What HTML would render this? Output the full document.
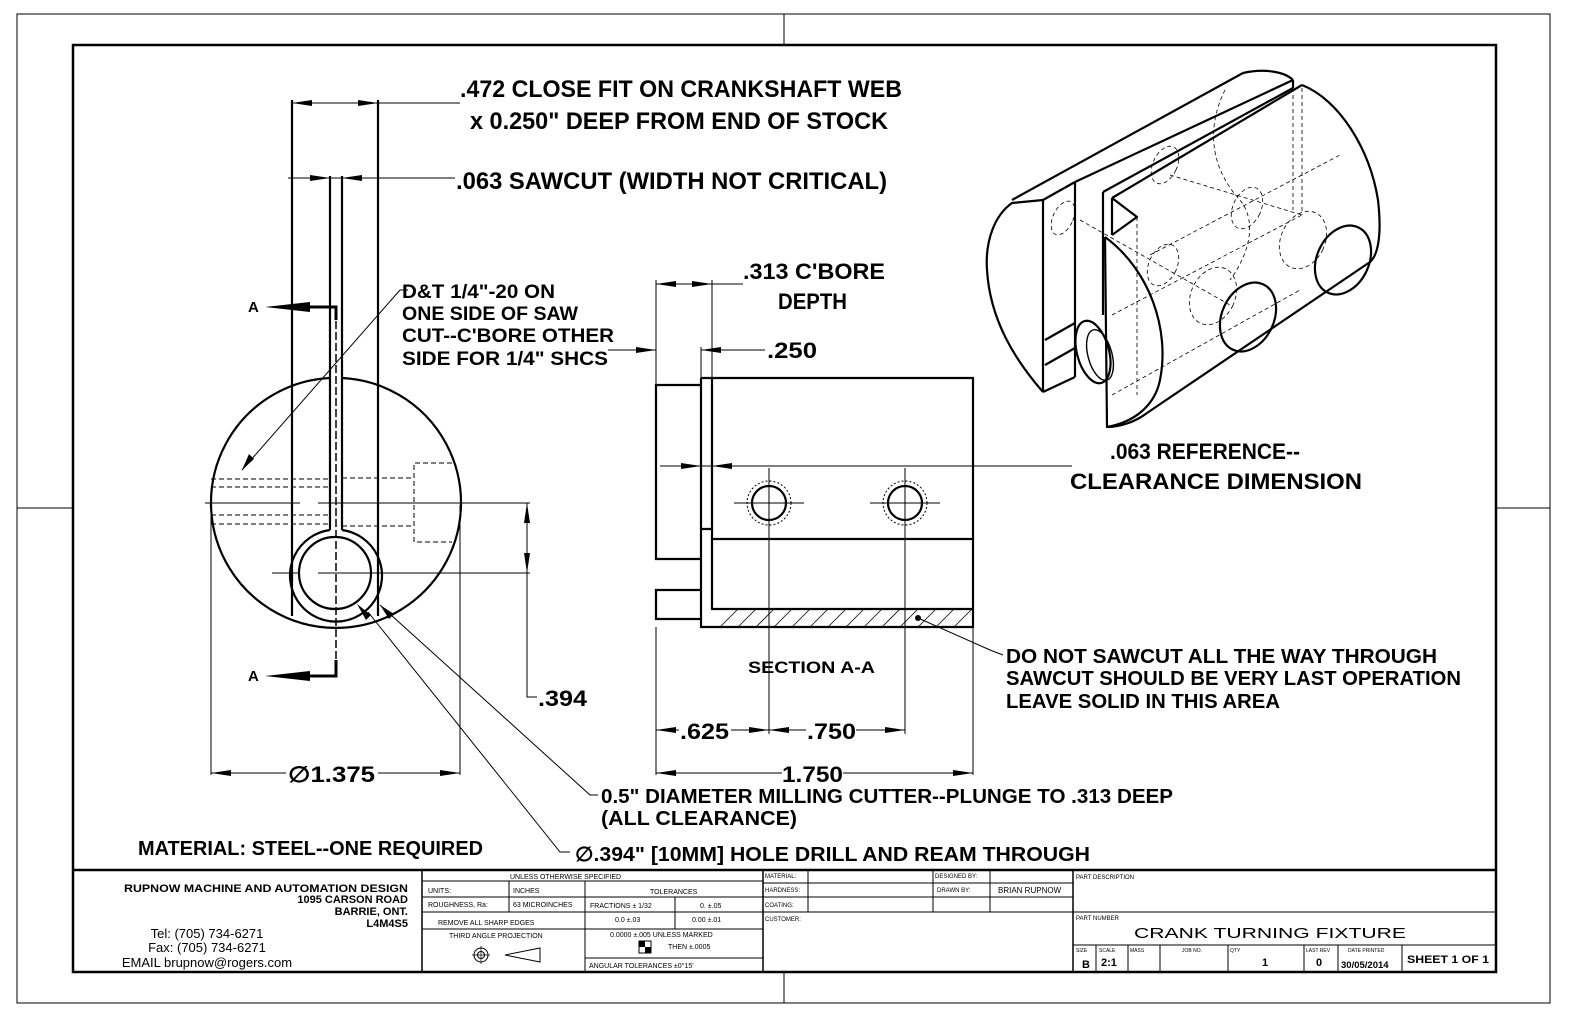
<!DOCTYPE html>
<html><head><meta charset="utf-8"><style>
html,body{margin:0;padding:0;background:#fff}
svg{display:block}
.t{font-family:"Liberation Sans",sans-serif;font-weight:bold;fill:#000}
.n{font-family:"Liberation Sans",sans-serif;fill:#000}
</style></head><body>
<svg width="1573" height="1020" viewBox="0 0 1573 1020" xmlns="http://www.w3.org/2000/svg">
<rect width="1573" height="1020" fill="#fff"/>
<rect x="17" y="14" width="1533" height="989" fill="none" stroke="#000" stroke-width="1"/>
<rect x="73" y="45" width="1423" height="927" fill="none" stroke="#000" stroke-width="2.5"/>
<g stroke="#000" stroke-width="1">
<line x1="784" y1="14" x2="784" y2="45"/><line x1="784" y1="972" x2="784" y2="1003"/>
<line x1="17" y1="508" x2="73" y2="508"/><line x1="1496" y1="508" x2="1550" y2="508"/>
</g>

<!-- LEFT VIEW -->
<g fill="none" stroke="#000" stroke-width="2.2">
<path d="M330 378 A125 125 0 1 0 342 378"/>
<line x1="292" y1="100" x2="292" y2="616"/>
<line x1="378" y1="100" x2="378" y2="616"/>
<line x1="330" y1="176" x2="330" y2="530"/>
<line x1="342" y1="176" x2="342" y2="530"/>
<path d="M330 530 A46 46 0 1 0 342 530"/>
<circle cx="335" cy="573" r="36"/>
</g>
<g fill="none" stroke="#000" stroke-width="1">
<line x1="336" y1="310" x2="336" y2="675" stroke-dasharray="8,3" stroke-width="1.5"/>
<line x1="205" y1="503" x2="300" y2="503"/><line x1="318" y1="503" x2="530" y2="503"/>
<line x1="272" y1="573" x2="300" y2="573"/><line x1="318" y1="573" x2="530" y2="573"/>
<g stroke-dasharray="5,3">
<line x1="211" y1="479" x2="330" y2="479"/><line x1="211" y1="487" x2="330" y2="487"/>
<line x1="211" y1="515" x2="330" y2="515"/><line x1="211" y1="524" x2="330" y2="524"/>
<line x1="342" y1="478" x2="414" y2="478"/><line x1="342" y1="526" x2="414" y2="526"/>
<polyline points="452,463 414,463 414,542 452,542"/>
</g>
<line x1="292" y1="103" x2="460" y2="103"/>
<line x1="288" y1="178" x2="455" y2="178"/>
<line x1="211" y1="505" x2="211" y2="775"/><line x1="460" y1="505" x2="460" y2="775"/>
<line x1="211" y1="773" x2="286" y2="773"/><line x1="378" y1="773" x2="460" y2="773"/>
<polyline points="527,503 527,697 537,697"/>
<line x1="400" y1="290" x2="242" y2="470"/>
<line x1="400" y1="290" x2="408" y2="290"/>
<polyline points="380,605 590,795 598,795"/>
<polyline points="368,612 560,852 570,852"/>
</g>
<g fill="#000">
<polygon points="292,103 312,100 312,106"/><polygon points="378,103 358,100 358,106"/>
<polygon points="330,178 310,175 310,181"/><polygon points="342,178 362,175 362,181"/>
<polygon points="211,773 231,770 231,776"/><polygon points="460,773 440,770 440,776"/>
<polygon points="527,503 524,523 530,523"/><polygon points="527,573 524,553 530,553"/>
<polygon points="242,470 249,454 254,459"/>
<polygon points="380,605 394,614 389,619"/>
<polygon points="357,604 366,620 371,615"/>
<polygon points="265,307 310,302 310,312"/><polygon points="265,676 310,671 310,681"/>
</g>
<g stroke="#000" stroke-width="3" fill="none">
<polyline points="300,307 336,307 336,320"/><polyline points="300,676 336,676 336,660"/>
</g>
<text class="t" x="248" y="312" font-size="15">A</text>
<text class="t" x="248" y="681" font-size="15">A</text>

<!-- SECTION -->
<g fill="none" stroke="#000" stroke-width="2.2">
<polyline points="701,385 656,385 656,559 701,559"/>
<polyline points="701,590 656,590 656,619 701,619"/>
<polyline points="701,378 701,627 973,627 973,378 701,378"/>
<polyline points="712,378 712,529 701,529"/>
<polyline points="712,529 712,609 973,609"/>
<line x1="712" y1="539" x2="973" y2="539"/>
<circle cx="769" cy="503" r="17"/><circle cx="905" cy="503" r="17"/>
</g>
<g fill="none" stroke="#000" stroke-width="1">
<circle cx="769" cy="503" r="22" stroke-dasharray="2,2"/><circle cx="905" cy="503" r="22" stroke-dasharray="2,2"/>
<line x1="734" y1="503" x2="804" y2="503"/><line x1="870" y1="503" x2="940" y2="503"/>
<line x1="769" y1="468" x2="769" y2="734"/><line x1="905" y1="468" x2="905" y2="734"/>
<line x1="660" y1="466" x2="1072" y2="466"/>
<line x1="656" y1="280" x2="656" y2="385"/><line x1="712" y1="280" x2="712" y2="378"/>
<line x1="701" y1="347" x2="701" y2="378"/>
<line x1="656" y1="284" x2="743" y2="284"/>
<line x1="608" y1="350" x2="656" y2="350"/><line x1="701" y1="350" x2="765" y2="350"/>
<line x1="656" y1="627" x2="656" y2="775"/><line x1="973" y1="627" x2="973" y2="775"/>
<line x1="656" y1="730" x2="679" y2="730"/><line x1="731" y1="730" x2="806" y2="730"/><line x1="856" y1="730" x2="905" y2="730"/>
<line x1="656" y1="773" x2="782" y2="773"/><line x1="843" y1="773" x2="973" y2="773"/>
<polyline points="918,618 990,650 1003,655"/>
<g stroke-width="0.8">
<path d="M720 627 L738 609 M738 627 L756 609 M756 627 L774 609 M774 627 L792 609 M792 627 L810 609 M810 627 L828 609 M828 627 L846 609 M846 627 L864 609 M864 627 L882 609 M882 627 L900 609 M900 627 L918 609 M918 627 L936 609 M936 627 L954 609 M954 627 L972 609"/>
</g>
</g>
<circle cx="918" cy="618" r="3" fill="#000"/>
<g fill="#000">
<polygon points="656,284 676,281 676,287"/><polygon points="712,284 692,281 692,287"/>
<polygon points="656,350 636,347 636,353"/><polygon points="701,350 721,347 721,353"/>
<polygon points="701,466 681,463 681,469"/><polygon points="712,466 732,463 732,469"/>
<polygon points="656,730 676,727 676,733"/><polygon points="769,730 749,727 749,733"/>
<polygon points="769,730 789,727 789,733"/><polygon points="905,730 885,727 885,733"/>
<polygon points="656,773 676,770 676,776"/><polygon points="973,773 953,770 953,776"/>
</g>

<!-- ISOMETRIC -->
<g fill="none" stroke="#000" stroke-width="2.2" stroke-linejoin="round">
<path d="M1043 200 L1012 203 C995 215 985 240 987 270 C990 320 1015 360 1043 392"/>
<line x1="1043" y1="200" x2="1043" y2="392"/>
<line x1="1012" y1="200" x2="1243" y2="73"/>
<path d="M1243 73 C1265 68 1285 72 1293 80"/>
<line x1="1043" y1="200" x2="1075" y2="182"/>
<line x1="1075" y1="182" x2="1293" y2="80"/>
<line x1="1293" y1="80" x2="1293" y2="88"/>
<line x1="1103" y1="192" x2="1293" y2="88"/>
<line x1="1112" y1="198" x2="1302" y2="85"/>
<path d="M1302 85 C1340 100 1370 150 1378 200 C1382 235 1378 255 1370 262"/>
<line x1="1370" y1="262" x2="1147" y2="413"/>
<path d="M1147 413 C1135 422 1120 427 1107 427"/>
<line x1="1075" y1="182" x2="1075" y2="377"/>
<line x1="1075" y1="377" x2="1043" y2="392"/>
<line x1="1045" y1="340" x2="1075" y2="323"/>
<line x1="1045" y1="365" x2="1075" y2="348"/>
<line x1="1103" y1="192" x2="1103" y2="315"/>
<line x1="1112" y1="198" x2="1112" y2="235"/>
<polyline points="1112,198 1137,217 1112,235"/>
<path d="M1105 237 C1150 270 1170 330 1160 380 C1155 405 1135 422 1107 427 L1105 237"/>
<ellipse cx="1093" cy="352" rx="16" ry="32" transform="rotate(-15 1093 352)"/>
<ellipse cx="1100" cy="355" rx="12" ry="26" transform="rotate(-15 1100 355)" stroke-width="1.4"/>
<ellipse cx="1248" cy="317" rx="26" ry="36" transform="rotate(25 1248 317)"/>
<ellipse cx="1343" cy="260" rx="26" ry="36" transform="rotate(25 1343 260)"/>
</g>
<g fill="none" stroke="#000" stroke-width="0.8" stroke-dasharray="4,3">
<line x1="1293" y1="88" x2="1293" y2="210"/><line x1="1302" y1="88" x2="1302" y2="215"/>
<line x1="1137" y1="217" x2="1137" y2="395"/>
<line x1="1112" y1="315" x2="1302" y2="215"/>
<line x1="1112" y1="395" x2="1300" y2="290"/>
<line x1="1170" y1="175" x2="1302" y2="215"/>
<line x1="1080" y1="220" x2="1230" y2="305"/>
<line x1="1150" y1="255" x2="1340" y2="155"/>
<path d="M1225 90 C1205 130 1212 170 1240 200 C1260 225 1245 260 1230 280"/>
<ellipse cx="1163" cy="265" rx="14" ry="22" transform="rotate(25 1163 265)"/>
<ellipse cx="1247" cy="208" rx="14" ry="22" transform="rotate(25 1247 208)"/>
<ellipse cx="1213" cy="296" rx="22" ry="30" transform="rotate(25 1213 296)"/>
<ellipse cx="1303" cy="240" rx="22" ry="30" transform="rotate(25 1303 240)"/>
<ellipse cx="1063" cy="218" rx="10" ry="18" transform="rotate(25 1063 218)"/>
<ellipse cx="1165" cy="165" rx="12" ry="20" transform="rotate(25 1165 165)"/>
</g>

<!-- LABELS -->
<g class="t">
<text x="460" y="97" font-size="24" textLength="442" lengthAdjust="spacingAndGlyphs">.472 CLOSE FIT ON CRANKSHAFT WEB</text>
<text x="470" y="129" font-size="24" textLength="418" lengthAdjust="spacingAndGlyphs">x 0.250" DEEP FROM END OF STOCK</text>
<text x="456" y="189" font-size="24" textLength="431" lengthAdjust="spacingAndGlyphs">.063 SAWCUT (WIDTH NOT CRITICAL)</text>
<text x="402" y="298" font-size="19" textLength="153" lengthAdjust="spacingAndGlyphs">D&amp;T 1/4"-20 ON</text>
<text x="402" y="320" font-size="19" textLength="176" lengthAdjust="spacingAndGlyphs">ONE SIDE OF SAW</text>
<text x="402" y="342" font-size="19" textLength="212" lengthAdjust="spacingAndGlyphs">CUT--C'BORE OTHER</text>
<text x="402" y="365" font-size="19" textLength="206" lengthAdjust="spacingAndGlyphs">SIDE FOR 1/4" SHCS</text>
<text x="743" y="279" font-size="22" textLength="142" lengthAdjust="spacingAndGlyphs">.313 C'BORE</text>
<text x="778" y="309" font-size="22" textLength="69" lengthAdjust="spacingAndGlyphs">DEPTH</text>
<text x="767" y="358" font-size="22" textLength="50" lengthAdjust="spacingAndGlyphs">.250</text>
<text x="1110" y="459" font-size="22" textLength="190" lengthAdjust="spacingAndGlyphs">.063 REFERENCE--</text>
<text x="1070" y="489" font-size="22" textLength="292" lengthAdjust="spacingAndGlyphs">CLEARANCE DIMENSION</text>
<text x="1006" y="663" font-size="20" textLength="431" lengthAdjust="spacingAndGlyphs">DO NOT SAWCUT ALL THE WAY THROUGH</text>
<text x="1006" y="685" font-size="20" textLength="455" lengthAdjust="spacingAndGlyphs">SAWCUT SHOULD BE VERY LAST OPERATION</text>
<text x="1006" y="708" font-size="20" textLength="274" lengthAdjust="spacingAndGlyphs">LEAVE SOLID IN THIS AREA</text>
<text x="748" y="673" font-size="17" textLength="127" lengthAdjust="spacingAndGlyphs">SECTION A-A</text>
<text x="680" y="739" font-size="22" textLength="49" lengthAdjust="spacingAndGlyphs">.625</text>
<text x="807" y="739" font-size="22" textLength="49" lengthAdjust="spacingAndGlyphs">.750</text>
<text x="782" y="782" font-size="22" textLength="61" lengthAdjust="spacingAndGlyphs">1.750</text>
<text x="288" y="782" font-size="22" textLength="87" lengthAdjust="spacingAndGlyphs">∅1.375</text>
<text x="538" y="706" font-size="22" textLength="49" lengthAdjust="spacingAndGlyphs">.394</text>
<text x="601" y="803" font-size="20" textLength="572" lengthAdjust="spacingAndGlyphs">0.5" DIAMETER MILLING CUTTER--PLUNGE TO .313 DEEP</text>
<text x="601" y="825" font-size="20" textLength="196" lengthAdjust="spacingAndGlyphs">(ALL CLEARANCE)</text>
<text x="138" y="855" font-size="20" textLength="345" lengthAdjust="spacingAndGlyphs">MATERIAL: STEEL--ONE REQUIRED</text>
<text x="575" y="861" font-size="20" textLength="515" lengthAdjust="spacingAndGlyphs">∅.394" [10MM] HOLE DRILL AND REAM THROUGH</text>
</g>

<!-- TITLE BLOCK -->
<g fill="none" stroke="#000">
<line x1="73" y1="870" x2="1496" y2="870" stroke-width="2.5"/>
<line x1="422" y1="870" x2="422" y2="972" stroke-width="1.5"/>
<line x1="763" y1="870" x2="763" y2="972" stroke-width="1.5"/>
<line x1="1073" y1="870" x2="1073" y2="972" stroke-width="1.5"/>
<g stroke-width="1">
<line x1="422" y1="881" x2="763" y2="881"/>
<line x1="422" y1="897" x2="763" y2="897"/>
<line x1="422" y1="912" x2="763" y2="912"/>
<line x1="422" y1="929" x2="763" y2="929"/>
<line x1="585" y1="958" x2="763" y2="958"/>
<line x1="509" y1="881" x2="509" y2="912"/>
<line x1="585" y1="881" x2="585" y2="972"/>
<line x1="675" y1="897" x2="675" y2="929"/>
<line x1="763" y1="883" x2="1073" y2="883"/>
<line x1="763" y1="897" x2="1073" y2="897"/>
<line x1="763" y1="912" x2="1073" y2="912"/>
<line x1="808" y1="870" x2="808" y2="912"/>
<line x1="933" y1="870" x2="933" y2="912"/>
<line x1="990" y1="870" x2="990" y2="912"/>
<line x1="1073" y1="912" x2="1496" y2="912"/>
<line x1="1073" y1="945" x2="1496" y2="945"/>
<line x1="1096" y1="945" x2="1096" y2="972"/>
<line x1="1128" y1="945" x2="1128" y2="972"/>
<line x1="1160" y1="945" x2="1160" y2="972"/>
<line x1="1228" y1="945" x2="1228" y2="972"/>
<line x1="1304" y1="945" x2="1304" y2="972"/>
<line x1="1338" y1="945" x2="1338" y2="972"/>
<line x1="1402" y1="945" x2="1402" y2="972"/>
</g>
<circle cx="481" cy="955" r="7" stroke-width="1"/><circle cx="481" cy="955" r="3.5" stroke-width="1"/>
<line x1="472" y1="955" x2="490" y2="955" stroke-width="0.7"/><line x1="481" y1="946" x2="481" y2="964" stroke-width="0.7"/>
<polygon points="505,955 540,948 540,962" stroke-width="1"/>
</g>
<rect x="639" y="941" width="12" height="12" fill="none" stroke="#000"/>
<path d="M639 941h6v6h-6zM645 947h6v6h-6z" fill="#000"/>
<g class="t">
<text x="408" y="892" font-size="11" text-anchor="end" textLength="284" lengthAdjust="spacingAndGlyphs">RUPNOW MACHINE AND AUTOMATION DESIGN</text>
<text x="408" y="903" font-size="11" text-anchor="end">1095 CARSON ROAD</text>
<text x="408" y="915" font-size="11" text-anchor="end">BARRIE, ONT.</text>
<text x="408" y="927" font-size="11" text-anchor="end">L4M4S5</text>
<text x="1134" y="938" font-size="15" textLength="272" lengthAdjust="spacingAndGlyphs" font-weight="normal">CRANK TURNING FIXTURE</text>
<text x="1407" y="963" font-size="11" textLength="82" lengthAdjust="spacingAndGlyphs">SHEET 1 OF 1</text>
<text x="1082" y="968" font-size="11">B</text>
<text x="1101" y="966" font-size="11">2:1</text>
<text x="1262" y="966" font-size="11">1</text>
<text x="1316" y="966" font-size="11">0</text>
<text x="1341" y="968" font-size="9.5">30/05/2014</text>
</g>
<g class="n">
<text x="207" y="938" font-size="13" text-anchor="middle">Tel: (705) 734-6271</text>
<text x="207" y="952" font-size="13" text-anchor="middle">Fax: (705) 734-6271</text>
<text x="207" y="967" font-size="13" text-anchor="middle">EMAIL brupnow@rogers.com</text>
</g>
<g class="n" font-size="7">
<text x="510" y="879">UNLESS OTHERWISE SPECIFIED</text>
<text x="428" y="893">UNITS:</text><text x="513" y="893">INCHES</text>
<text x="650" y="894">TOLERANCES</text>
<text x="428" y="907">ROUGHNESS, Ra:</text><text x="513" y="907">63 MICROINCHES</text>
<text x="590" y="908">FRACTIONS ± 1/32</text><text x="700" y="908">0.   ±.05</text>
<text x="438" y="925">REMOVE ALL SHARP EDGES</text>
<text x="615" y="922">0.0  ±.03</text><text x="692" y="922">0.00  ±.01</text>
<text x="449" y="938">THIRD ANGLE PROJECTION</text>
<text x="610" y="937">0.0000  ±.005 UNLESS MARKED</text>
<text x="668" y="949">THEN ±.0005</text>
<text x="589" y="968">ANGULAR TOLERANCES   ±0°15'</text>
<text x="765" y="878" font-size="6">MATERIAL:</text>
<text x="765" y="892" font-size="6">HARDNESS:</text>
<text x="765" y="907" font-size="6">COATING:</text>
<text x="765" y="921" font-size="6">CUSTOMER:</text>
<text x="935" y="878" font-size="6">DESIGNED BY:</text>
<text x="937" y="892" font-size="6">DRAWN BY:</text>
<text x="998" y="893" font-size="8">BRIAN RUPNOW</text>
<text x="1076" y="879" font-size="6">PART DESCRIPTION</text>
<text x="1076" y="920" font-size="6">PART NUMBER</text>
<text x="1076" y="952" font-size="5">SIZE</text><text x="1099" y="952" font-size="5">SCALE</text>
<text x="1130" y="952" font-size="5">MASS</text><text x="1182" y="952" font-size="5">JOB NO.</text>
<text x="1230" y="952" font-size="5">QTY</text><text x="1306" y="952" font-size="5">LAST REV</text>
<text x="1348" y="952" font-size="5">DATE PRINTED</text>
</g>
</svg>
</body></html>
